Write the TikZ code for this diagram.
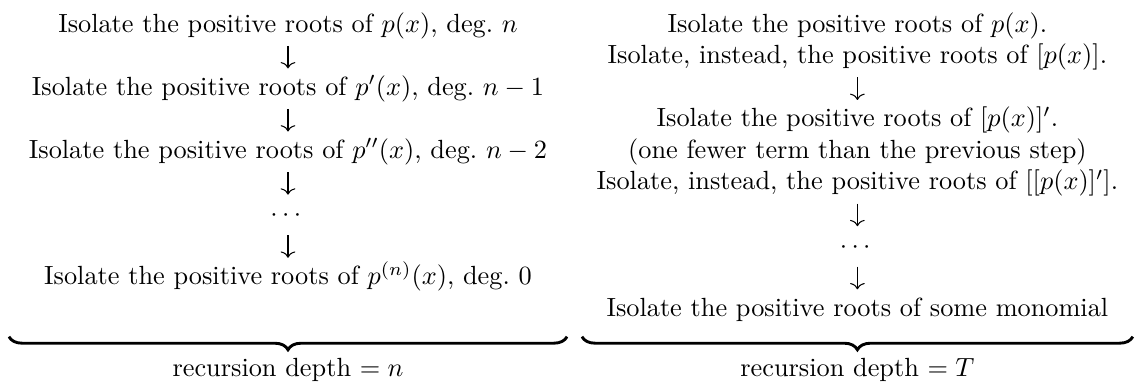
\documentclass[tikz,border=0pt]{standalone}
\usepackage{amsmath,amssymb}
\usepackage{tikz}
\usetikzlibrary{arrows.meta,decorations.pathreplacing}
\tikzset{
  txt/.style ={anchor=base,inner sep=0pt,text height=7pt,text depth=2pt},
  dn/.style  ={-{Computer Modern Rightarrow[length=2.4pt,width=5.6pt]},shorten <=3pt,shorten >=3pt},
  brc/.style ={decorate,decoration={brace,mirror,amplitude=5pt},line width=1.1pt},
  lbl/.style ={anchor=base,inner sep=0pt},
}
\begin{document}
\begin{tikzpicture}
  \useasboundingbox (0,0) rectangle (15.169,5.093);
  % left column: derivatives
  \foreach \i/\t in {0/{$p(x)$, deg.\ $n$},1/{$p'(x)$, deg.\ $n-1$},2/{$p''(x)$, deg.\ $n-2$}}{
    \node[txt] (l\i) at (3.849,4.664-\i*0.8436) {Isolate the positive roots of \t};}
  \node[txt] (ldots) at (3.849,4.664-6*0.4218) {$\cdots$};
  \node[txt] (lend) at (3.849,4.664-8*0.4218) {Isolate the positive roots of $p^{(n)}(x)$, deg.\ $0$};
  \draw[dn] (l0)--(l1); \draw[dn] (l1)--(l2); \draw[dn] (l2)--(ldots); \draw[dn] (ldots)--(lend);
  % right column: fewer terms
  \foreach \i/\t in {0/{Isolate the positive roots of $p(x)$.},
      1/{Isolate, instead, the positive roots of $[p(x)]$.},
      3/{Isolate the positive roots of $[p(x)]'$.},
      4/{(one fewer term than the previous step)},
      5/{Isolate, instead, the positive roots of $[[p(x)]']$.}}{
    \node[txt] (r\i) at (11.459,4.664-\i*0.4218) {\t};}
  \node[txt] (rdots) at (11.459,4.664-7*0.4218) {$\cdots$};
  \node[txt] (rend) at (11.459,4.664-9*0.4218) {Isolate the positive roots of some monomial};
  \draw[dn] (r1)--(r3); \draw[dn] (r5)--(rdots); \draw[dn] (rdots)--(rend);
  % braces
  \draw[brc] (0.12,0.594) -- (7.578,0.594);
  \draw[brc] (7.778,0.594) -- (15.14,0.594);
  \node[lbl] (ldepth) at (3.849,0.067) {recursion depth $=n$};
  \node[lbl] (rdepth) at (11.459,0.067) {recursion depth $=T$};
\end{tikzpicture}
\end{document}
